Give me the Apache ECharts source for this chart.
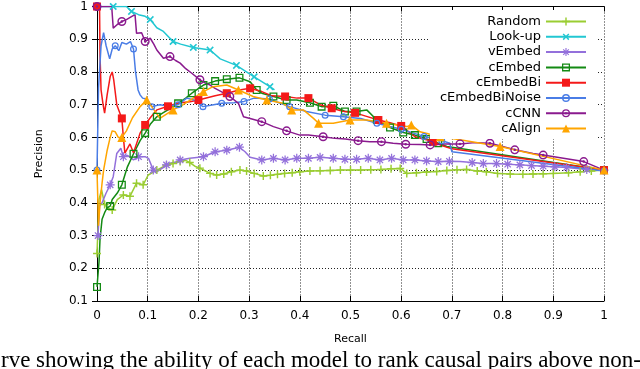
<!DOCTYPE html>
<html>
<head>
<meta charset="utf-8">
<script src="https://cdn.jsdelivr.net/npm/echarts@6/dist/echarts.min.js"></script>
<style>
html,body{margin:0;padding:0;background:#fff}
#chart{width:640px;height:369px}
</style>
</head>
<body>
<div id="chart"></div>
<script>
// series names, in the order gnuplot drew them
const names = ['Random', 'Look-up', 'vEmbed', 'cEmbed', 'cEmbedBi', 'cEmbedBiNoise', 'cCNN', 'cAlign'];

// [recall, precision] pairs
const random = [[0,0.245],[0.004,0.41],[0.009,0.44],[0.015,0.395],[0.022,0.383],[0.03,0.378],[0.04,0.41],[0.052,0.424],[0.065,0.42],[0.078,0.46],[0.091,0.455],[0.101,0.485],[0.118,0.5],[0.128,0.508],[0.137,0.515],[0.15,0.52],[0.164,0.526],[0.175,0.53],[0.183,0.523],[0.193,0.512],[0.203,0.506],[0.213,0.498],[0.223,0.49],[0.236,0.485],[0.25,0.488],[0.265,0.495],[0.282,0.5],[0.295,0.497],[0.31,0.49],[0.328,0.482],[0.342,0.484],[0.356,0.487],[0.37,0.49],[0.385,0.492],[0.4,0.495],[0.42,0.497],[0.44,0.498],[0.46,0.499],[0.48,0.5],[0.5,0.5],[0.52,0.5],[0.54,0.501],[0.56,0.502],[0.58,0.504],[0.598,0.505],[0.611,0.49],[0.63,0.492],[0.65,0.494],[0.67,0.496],[0.69,0.499],[0.71,0.501],[0.729,0.502],[0.75,0.497],[0.768,0.495],[0.79,0.49],[0.815,0.488],[0.84,0.487],[0.86,0.488],[0.88,0.489],[0.9,0.49],[0.93,0.492],[0.953,0.495],[0.975,0.497],[1,0.5]];
const lookup = [[0,1],[0.016,1],[0.032,1],[0.049,1],[0.058,1],[0.068,0.985],[0.082,0.975],[0.095,0.97],[0.105,0.96],[0.118,0.935],[0.13,0.925],[0.15,0.893],[0.165,0.885],[0.19,0.875],[0.223,0.867],[0.243,0.84],[0.275,0.82],[0.31,0.785],[0.341,0.755],[0.35,0.745]];
const vembed = [[0.002,0.3],[0.005,0.39],[0.01,0.4],[0.018,0.43],[0.026,0.455],[0.032,0.48],[0.039,0.551],[0.047,0.567],[0.052,0.541],[0.06,0.545],[0.072,0.531],[0.082,0.541],[0.095,0.541],[0.102,0.535],[0.111,0.5],[0.118,0.495],[0.128,0.505],[0.137,0.516],[0.144,0.521],[0.155,0.525],[0.164,0.531],[0.183,0.536],[0.21,0.541],[0.233,0.556],[0.256,0.561],[0.281,0.57],[0.292,0.556],[0.302,0.539],[0.325,0.531],[0.348,0.536],[0.371,0.531],[0.394,0.536],[0.417,0.536],[0.44,0.539],[0.466,0.536],[0.489,0.533],[0.512,0.533],[0.535,0.536],[0.558,0.531],[0.581,0.536],[0.604,0.531],[0.627,0.531],[0.65,0.528],[0.673,0.526],[0.695,0.527],[0.716,0.526],[0.74,0.523],[0.762,0.52],[0.788,0.52],[0.81,0.518],[0.834,0.516],[0.857,0.514],[0.88,0.512],[0.903,0.51],[0.926,0.508],[0.946,0.505],[0.966,0.502],[0.985,0.501],[1,0.5]];
const cembed = [[0,0.143],[0.004,0.22],[0.006,0.29],[0.01,0.35],[0.015,0.37],[0.02,0.385],[0.026,0.39],[0.03,0.41],[0.035,0.42],[0.04,0.43],[0.049,0.455],[0.06,0.51],[0.072,0.55],[0.085,0.59],[0.095,0.613],[0.105,0.64],[0.118,0.663],[0.13,0.675],[0.14,0.684],[0.16,0.704],[0.175,0.72],[0.187,0.735],[0.21,0.76],[0.233,0.772],[0.256,0.778],[0.281,0.782],[0.302,0.77],[0.315,0.745],[0.325,0.735],[0.348,0.725],[0.374,0.714],[0.394,0.714],[0.42,0.706],[0.443,0.694],[0.466,0.697],[0.489,0.679],[0.512,0.679],[0.532,0.684],[0.552,0.653],[0.578,0.63],[0.604,0.615],[0.627,0.607],[0.65,0.595],[0.673,0.582],[0.69,0.572],[1,0.5]];
const cembedBi = [[0,1],[0.005,1],[0.006,0.85],[0.008,0.745],[0.012,0.7],[0.015,0.674],[0.02,0.73],[0.026,0.786],[0.03,0.8],[0.033,0.776],[0.039,0.7],[0.049,0.658],[0.052,0.6],[0.055,0.552],[0.065,0.58],[0.072,0.553],[0.085,0.613],[0.095,0.638],[0.105,0.66],[0.118,0.684],[0.14,0.695],[0.16,0.705],[0.183,0.709],[0.2,0.714],[0.233,0.727],[0.256,0.735],[0.281,0.745],[0.302,0.75],[0.325,0.74],[0.345,0.727],[0.371,0.725],[0.395,0.72],[0.417,0.72],[0.44,0.7],[0.463,0.689],[0.485,0.68],[0.509,0.675],[0.53,0.665],[0.555,0.653],[0.578,0.645],[0.6,0.635],[0.627,0.602],[0.663,0.587],[0.677,0.577],[0.7,0.565],[1,0.5]];
const cembedBiNoise = [[0,0.5],[0.003,0.75],[0.008,0.88],[0.013,0.92],[0.018,0.88],[0.025,0.84],[0.03,0.87],[0.036,0.88],[0.043,0.865],[0.049,0.89],[0.058,0.885],[0.066,0.893],[0.072,0.87],[0.076,0.8],[0.081,0.745],[0.085,0.73],[0.09,0.72],[0.095,0.718],[0.1,0.714],[0.108,0.694],[0.124,0.7],[0.14,0.696],[0.16,0.7],[0.177,0.72],[0.19,0.715],[0.209,0.694],[0.23,0.7],[0.246,0.704],[0.27,0.706],[0.29,0.71],[0.31,0.72],[0.34,0.717],[0.36,0.705],[0.38,0.694],[0.413,0.679],[0.45,0.668],[0.486,0.663],[0.52,0.658],[0.552,0.643],[0.578,0.633],[0.6,0.625],[0.624,0.613],[0.645,0.603],[0.663,0.597],[0.68,0.59],[0.696,0.582],[0.7,0.556],[1,0.497]];
const ccnn = [[0,1],[0.02,1],[0.029,1],[0.032,0.934],[0.04,0.945],[0.049,0.954],[0.058,0.96],[0.068,0.969],[0.075,0.975],[0.078,0.918],[0.088,0.92],[0.095,0.893],[0.105,0.903],[0.112,0.885],[0.118,0.867],[0.131,0.842],[0.144,0.847],[0.155,0.835],[0.164,0.827],[0.175,0.81],[0.187,0.796],[0.203,0.776],[0.215,0.765],[0.223,0.76],[0.233,0.75],[0.245,0.74],[0.262,0.725],[0.279,0.704],[0.289,0.663],[0.302,0.658],[0.325,0.648],[0.348,0.633],[0.374,0.62],[0.4,0.607],[0.417,0.607],[0.446,0.602],[0.469,0.597],[0.49,0.595],[0.515,0.59],[0.538,0.587],[0.561,0.587],[0.584,0.582],[0.609,0.579],[0.637,0.578],[0.657,0.577],[0.685,0.58],[0.716,0.58],[0.745,0.584],[0.775,0.582],[0.8,0.572],[0.824,0.562],[0.86,0.551],[0.88,0.546],[0.92,0.536],[0.96,0.526],[1,0.5]];
const calign = [[0,0.5],[0.003,0.33],[0.006,0.4],[0.01,0.46],[0.013,0.5],[0.02,0.56],[0.026,0.6],[0.03,0.62],[0.036,0.617],[0.042,0.6],[0.049,0.6],[0.058,0.62],[0.07,0.66],[0.085,0.694],[0.098,0.714],[0.108,0.694],[0.124,0.658],[0.15,0.684],[0.17,0.7],[0.19,0.72],[0.21,0.74],[0.229,0.755],[0.256,0.76],[0.279,0.745],[0.308,0.725],[0.335,0.714],[0.367,0.704],[0.384,0.684],[0.407,0.684],[0.427,0.658],[0.437,0.643],[0.466,0.643],[0.499,0.653],[0.532,0.653],[0.571,0.643],[0.611,0.633],[0.62,0.638],[0.637,0.617],[0.677,0.602],[0.71,0.594],[0.795,0.572],[1,0.5]];

const caption = 'rve showing the ability of each model to rank causal pairs above non-';

// marker shapes (gnuplot point types)
const PLUS = 'path://M4.1,0L5.9,0L5.9,4.1L10,4.1L10,5.9L5.9,5.9L5.9,10L4.1,10L4.1,5.9L0,5.9L0,4.1L4.1,4.1Z';
const STAR = 'path://M4.3,0L5.7,0L5.7,10L4.3,10ZM0,4.3L10,4.3L10,5.7L0,5.7ZM2,1L9,8L8,9L1,2ZM1,8L8,1L9,2L2,9Z';
const OSQUARE = 'path://M0,0L10,0L10,10L0,10ZM1.6,1.6L1.6,8.4L8.4,8.4L8.4,1.6Z';
const OCIRCLE = 'path://M5,0A5,5,0,1,1,5,10A5,5,0,1,1,5,0ZM5,1.8A3.2,3.2,0,1,0,5,8.2A3.2,3.2,0,1,0,5,1.8Z';
const ODOT = 'path://M5,0A5,5,0,1,1,5,10A5,5,0,1,1,5,0ZM5,1.6A3.4,3.4,0,1,0,5,8.4A3.4,3.4,0,1,0,5,1.6ZM5,3.6A1.4,1.4,0,1,1,5,6.4A1.4,1.4,0,1,1,5,3.6Z';

const styles = [
  { data: random, color: '#9acd32', symbol: PLUS, size: 8, gap: 0.012 },
  { data: lookup, color: '#22c7d2', symbol: PLUS, size: 9, rotate: 45, gap: 0.03 },
  { data: vembed, color: '#9370db', symbol: STAR, size: 9, gap: 0.022 },
  { data: cembed, color: '#138a13', symbol: OSQUARE, size: 8, gap: 0.023 },
  { data: cembedBi, color: '#f41919', symbol: 'rect', size: 8, gap: 0.045 },
  { data: cembedBiNoise, color: '#4a7de6', symbol: OCIRCLE, size: 7, gap: 0.035 },
  { data: ccnn, color: '#8a1a8e', symbol: ODOT, size: 9, gap: 0.045 },
  { data: calign, color: '#ffa500', symbol: 'triangle', size: 9, gap: 0.048 }
];

// show a point marker only every `gap` of recall, like gnuplot's pointinterval
function marked(pts, gap) {
  let last = -1;
  return pts.map(function (p) {
    if (p[0] - last >= gap - 1e-9) { last = p[0]; return p; }
    return { value: p, symbol: 'none' };
  });
}

const font = 'DejaVu Sans';
const black = '#000';

const chart = echarts.init(document.getElementById('chart'));

const series = names.map(function (name, i) {
  const s = styles[i];
  return {
    name: name,
    type: 'line',
    data: marked(s.data, s.gap),
    symbol: s.symbol,
    symbolSize: s.size,
    symbolRotate: s.rotate || 0,
    showAllSymbol: true,
    animation: false,
    color: s.color,
    lineStyle: { width: 1.5, color: s.color },
    itemStyle: { color: s.color },
    emphasis: { disabled: true }
  };
});

const tickStyle = { inside: true, length: 5, lineStyle: { color: black, width: 1 } };

chart.setOption({
  backgroundColor: '#fff',
  animation: false,
  grid: { left: 97, right: 36, top: 6.5, bottom: 68 },
  legend: {
    data: names,
    orient: 'vertical',
    align: 'right',
    right: 44,
    top: 10,
    padding: [5, 9, 4, 10],
    backgroundColor: '#fff',
    itemWidth: 40,
    itemHeight: 10,
    itemGap: 2.3,
    textStyle: { fontFamily: font, fontSize: 13, color: black },
    selectedMode: false
  },
  xAxis: [
    {
      type: 'value', min: 0, max: 1, interval: 0.1, position: 'bottom',
      name: 'Recall', nameLocation: 'middle', nameGap: 33,
      nameTextStyle: { fontFamily: font, fontSize: 11, color: black },
      axisLine: { lineStyle: { color: black, width: 1 } },
      axisTick: tickStyle,
      axisLabel: { fontFamily: font, fontSize: 12, color: black, margin: 9 },
      splitLine: { show: true, lineStyle: { color: '#222', width: 1, type: [1, 2] } }
    },
    {
      type: 'value', min: 0, max: 1, interval: 0.1, position: 'top',
      axisLine: { lineStyle: { color: black, width: 1 } },
      axisTick: tickStyle, axisLabel: { show: false }, splitLine: { show: false }
    }
  ],
  yAxis: [
    {
      type: 'value', min: 0.1, max: 1, interval: 0.1, position: 'left',
      name: 'Precision', nameLocation: 'middle', nameGap: 52, nameRotate: 90,
      nameTextStyle: { fontFamily: font, fontSize: 11, color: black },
      axisLine: { show: true, lineStyle: { color: black, width: 1 } },
      axisTick: { show: true, inside: true, length: 5, lineStyle: { color: black, width: 1 } },
      axisLabel: { fontFamily: font, fontSize: 12, color: black, margin: 9 },
      splitLine: { show: true, lineStyle: { color: '#222', width: 1, type: [1, 2] } }
    },
    {
      type: 'value', min: 0.1, max: 1, interval: 0.1, position: 'right',
      axisLine: { show: true, lineStyle: { color: black, width: 1 } },
      axisTick: { show: true, inside: true, length: 5, lineStyle: { color: black, width: 1 } },
      axisLabel: { show: false }, splitLine: { show: false }
    }
  ],
  graphic: [
    {
      type: 'text', x: 1, y: 361,
      style: { text: caption, font: '23px "Liberation Serif"', fill: black, verticalAlign: 'middle' }
    }
  ],
  series: series
});
</script>
</body>
</html>
